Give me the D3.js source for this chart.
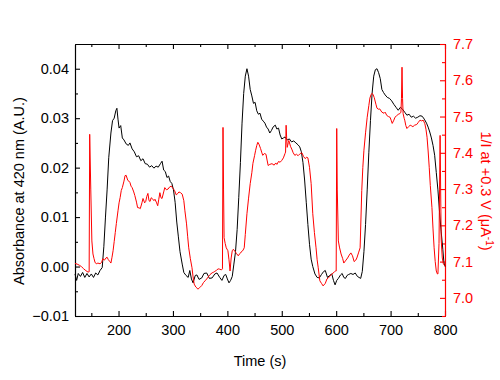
<!DOCTYPE html>
<html>
<head>
<meta charset="utf-8">
<script src="https://cdn.jsdelivr.net/npm/d3@7"></script>
<style>
  body { margin: 0; background: #fff; }
  text { font-family: "Liberation Sans", Arial, sans-serif; }
</style>
</head>
<body>
<div id="chart"></div>
<script>
// absorbance at 420 nm, [time (s), A.U.]
const absorbance = [[120,-0.0015],[123,-0.0028],[126,-0.0014],[130,-0.0020],[134,-0.0012],[138,-0.0022],[142,-0.0014],[146,-0.0021],[150,-0.0015],[154,-0.0022],[158,-0.0013],[162,-0.0017],[166,-0.0008],[170,-0.0002],[173,0.004],[176,0.010],[179,0.0155],[182,0.022],[186,0.027],[189,0.0295],[192,0.030],[195,0.0315],[197,0.032],[199,0.0298],[201,0.028],[204,0.0285],[207,0.026],[210,0.0256],[214,0.0248],[218,0.0245],[221,0.025],[225,0.0238],[229,0.0232],[233,0.0222],[237,0.0224],[241,0.0214],[245,0.0218],[249,0.0208],[253,0.0207],[257,0.0201],[261,0.0204],[265,0.0199],[269,0.0203],[273,0.0201],[277,0.0208],[280,0.0213],[283,0.0195],[286,0.0192],[289,0.018],[292,0.0183],[295,0.0172],[298,0.0168],[301,0.0155],[304,0.013],[307,0.009],[310,0.006],[313,0.003],[317,0.0005],[320,-0.0012],[324,-0.0018],[328,-0.0022],[331,-0.0008],[334,-0.0025],[337,-0.0033],[341,-0.0018],[344,-0.0017],[348,-0.0026],[353,-0.0023],[357,-0.0014],[362,-0.0013],[367,-0.0024],[372,-0.0023],[377,-0.0015],[381,-0.0013],[386,-0.0022],[390,-0.0028],[394,-0.0018],[397,-0.0016],[400,-0.0025],[403,-0.0033],[406,-0.0028],[409,-0.002],[412,0.0005],[415,0.003],[418,0.0075],[421,0.014],[424,0.021],[427,0.029],[430,0.035],[433,0.0385],[436,0.040],[439,0.0385],[442,0.0358],[445,0.0345],[448,0.033],[451,0.0332],[454,0.0315],[457,0.0308],[460,0.031],[463,0.0298],[466,0.0294],[469,0.029],[472,0.0282],[475,0.0278],[478,0.027],[481,0.0275],[484,0.0282],[488,0.0286],[491,0.0278],[494,0.028],[497,0.0266],[500,0.0258],[503,0.026],[506,0.0262],[510,0.0256],[514,0.0258],[518,0.0252],[522,0.0254],[526,0.025],[530,0.0246],[533,0.0242],[536,0.0232],[539,0.021],[542,0.0175],[545,0.013],[548,0.0085],[551,0.0045],[554,0.0015],[557,0.0],[561,-0.0015],[565,-0.0022],[569,-0.0023],[573,-0.0016],[577,-0.001],[580,-0.0008],[584,-0.0022],[588,-0.0018],[592,-0.0015],[595,-0.0028],[598,-0.0037],[601,-0.0028],[604,-0.0024],[608,-0.0017],[611,-0.0014],[614,-0.0022],[617,-0.0024],[620,-0.0018],[623,-0.0016],[627,-0.0014],[631,-0.0016],[635,-0.0013],[639,-0.002],[642,-0.0022],[645,-0.0024],[648,-0.001],[651,0.003],[654,0.0085],[657,0.0155],[660,0.023],[663,0.0295],[666,0.035],[669,0.0385],[672,0.0398],[675,0.040],[678,0.0392],[681,0.038],[684,0.0358],[687,0.0352],[690,0.0347],[694,0.0342],[698,0.034],[702,0.0335],[706,0.0328],[710,0.0322],[714,0.0316],[718,0.0322],[722,0.0318],[726,0.0312],[730,0.0306],[734,0.0308],[738,0.0302],[742,0.0304],[746,0.030],[750,0.0302],[754,0.0305],[758,0.0304],[762,0.0298],[766,0.029],[769,0.0282],[772,0.0272],[775,0.026],[778,0.0245],[781,0.0225],[784,0.019],[787,0.0155],[790,0.011],[793,0.007],[796,0.0035],[798,0.0008],[800,0.0]];

// 1/I at +0.3 V, [time (s), uA^-1]
const inverseCurrent = [[120,7.095],[124,7.093],[128,7.090],[132,7.086],[136,7.080],[140,7.075],[144,7.071],[146,7.072],[147,7.451],[149,7.30],[151,7.157],[153,7.121],[155,7.108],[157,7.097],[160,7.094],[162,7.096],[166,7.094],[169,7.098],[171,7.108],[174,7.104],[177,7.110],[179,7.112],[181,7.106],[184,7.100],[186,7.096],[188,7.112],[190,7.130],[192,7.155],[194,7.180],[196,7.205],[199,7.240],[201,7.262],[203,7.277],[205,7.296],[207,7.304],[210,7.322],[212,7.337],[214,7.338],[217,7.324],[219,7.322],[221,7.318],[223,7.308],[225,7.304],[228,7.292],[230,7.282],[233,7.264],[235,7.249],[238,7.248],[240,7.246],[243,7.262],[245,7.274],[248,7.262],[250,7.266],[252,7.280],[254,7.288],[256,7.268],[258,7.266],[260,7.276],[262,7.274],[265,7.268],[267,7.272],[270,7.262],[272,7.254],[274,7.272],[276,7.290],[278,7.276],[280,7.274],[283,7.292],[285,7.304],[288,7.298],[291,7.300],[294,7.306],[297,7.308],[300,7.302],[303,7.296],[306,7.284],[309,7.288],[311,7.292],[314,7.290],[317,7.286],[320,7.268],[322,7.240],[325,7.204],[327,7.170],[329,7.138],[332,7.108],[335,7.083],[337,7.058],[339,7.038],[342,7.030],[346,7.024],[349,7.028],[353,7.034],[356,7.042],[359,7.047],[362,7.052],[365,7.058],[368,7.064],[372,7.069],[375,7.071],[377,7.073],[380,7.076],[383,7.080],[386,7.079],[389,7.077],[391,7.080],[392,7.470],[393,7.30],[394,7.166],[396,7.150],[398,7.138],[401,7.130],[403,7.105],[405,7.074],[407,7.110],[409,7.130],[411,7.134],[414,7.128],[417,7.122],[420,7.116],[423,7.122],[425,7.126],[427,7.128],[429,7.132],[431,7.138],[433,7.175],[436,7.232],[439,7.275],[442,7.315],[445,7.345],[447,7.371],[450,7.392],[452,7.407],[454,7.420],[456,7.429],[458,7.424],[461,7.412],[463,7.402],[465,7.393],[468,7.398],[471,7.396],[473,7.380],[475,7.365],[478,7.368],[482,7.370],[486,7.366],[489,7.372],[491,7.368],[494,7.376],[497,7.374],[500,7.379],[503,7.386],[506,7.398],[507,7.402],[508,7.476],[509,7.44],[510,7.415],[512,7.428],[513,7.434],[516,7.418],[519,7.408],[521,7.400],[524,7.393],[527,7.396],[530,7.392],[534,7.398],[537,7.400],[540,7.390],[543,7.384],[546,7.388],[548,7.386],[551,7.360],[554,7.315],[557,7.232],[560,7.180],[563,7.138],[565,7.105],[567,7.083],[570,7.047],[573,7.040],[576,7.033],[580,7.040],[583,7.052],[586,7.056],[589,7.060],[592,7.066],[594,7.068],[597,7.072],[599,7.074],[600,7.074],[601,7.467],[602,7.30],[604,7.157],[606,7.140],[609,7.121],[612,7.108],[614,7.096],[617,7.102],[621,7.110],[624,7.118],[627,7.124],[630,7.116],[633,7.100],[636,7.104],[638,7.110],[641,7.124],[644,7.138],[647,7.296],[649,7.360],[651,7.407],[654,7.455],[657,7.498],[660,7.530],[662,7.551],[664,7.560],[666,7.564],[668,7.560],[670,7.552],[673,7.534],[675,7.523],[678,7.520],[680,7.521],[684,7.512],[688,7.509],[690,7.512],[693,7.503],[696,7.500],[699,7.498],[701,7.490],[703,7.481],[706,7.490],[708,7.498],[711,7.502],[714,7.506],[717,7.508],[719,7.512],[720,7.55],[721,7.636],[722,7.55],[723,7.508],[725,7.495],[726,7.490],[728,7.475],[730,7.467],[733,7.472],[736,7.476],[739,7.474],[741,7.472],[744,7.476],[748,7.478],[751,7.484],[754,7.490],[757,7.488],[760,7.490],[763,7.480],[765,7.465],[767,7.443],[769,7.405],[771,7.360],[773,7.310],[776,7.249],[778,7.190],[780,7.138],[782,7.100],[784,7.074],[786,7.066],[787,7.066],[789,7.150],[790,7.300],[791,7.448],[792,7.300],[793,7.160],[795,7.110],[797,7.094],[800,7.088]];

const timeTicks = [200, 300, 400, 500, 600, 700, 800];
const timeMinor = [150, 250, 350, 450, 550, 650, 750];
const absTicks = [-0.01, 0, 0.01, 0.02, 0.03, 0.04];
const absMinor = [-0.005, 0.005, 0.015, 0.025, 0.035];
const invTicks = [7.0, 7.1, 7.2, 7.3, 7.4, 7.5, 7.6, 7.7];
const invMinor = [6.95, 7.05, 7.15, 7.25, 7.35, 7.45, 7.55, 7.65];

const W = 500, H = 380;
const margin = {top: 44, right: 55, bottom: 64, left: 75};
const red = '#ff0000';

const svg = d3.select('#chart').append('svg')
  .attr('width', W)
  .attr('height', H);

const x = d3.scaleLinear().domain([120, 800]).range([margin.left, W - margin.right]);
const yAbs = d3.scaleLinear().domain([-0.01, 0.045]).range([H - margin.bottom, margin.top]);
const yInv = d3.scaleLinear().domain([6.95, 7.7]).range([H - margin.bottom, margin.top]);

// axes, ticks pointing inward
function styleAxis(g, color) {
  g.selectAll('path, line').attr('stroke', color).attr('stroke-width', 1.1);
  g.selectAll('text').attr('fill', color).style('font-size', '14.5px');
}

svg.append('g')
  .attr('transform', `translate(0,${H - margin.bottom})`)
  .call(d3.axisBottom(x).tickValues(timeTicks).tickSize(-5).tickSizeOuter(0).tickPadding(9))
  .call(g => styleAxis(g, '#000'));
svg.append('g')
  .attr('transform', `translate(0,${H - margin.bottom})`)
  .call(d3.axisBottom(x).tickValues(timeMinor).tickSize(-3).tickSizeOuter(0).tickFormat(''))
  .call(g => styleAxis(g, '#000'));

svg.append('g')
  .attr('transform', `translate(0,${margin.top})`)
  .call(d3.axisTop(x).tickValues(timeTicks).tickSize(-5).tickSizeOuter(0).tickFormat(''))
  .call(g => styleAxis(g, '#000'));
svg.append('g')
  .attr('transform', `translate(0,${margin.top})`)
  .call(d3.axisTop(x).tickValues(timeMinor).tickSize(-3).tickSizeOuter(0).tickFormat(''))
  .call(g => styleAxis(g, '#000'));

svg.append('g')
  .attr('transform', `translate(${margin.left},0)`)
  .call(d3.axisLeft(yAbs).tickValues(absTicks).tickSize(-5).tickSizeOuter(0).tickPadding(6).tickFormat(d3.format('.2f')))
  .call(g => styleAxis(g, '#000'));
svg.append('g')
  .attr('transform', `translate(${margin.left},0)`)
  .call(d3.axisLeft(yAbs).tickValues(absMinor).tickSize(-3).tickSizeOuter(0).tickFormat(''))
  .call(g => styleAxis(g, '#000'));

svg.append('g')
  .attr('transform', `translate(${W - margin.right},0)`)
  .call(d3.axisRight(yInv).tickValues(invTicks).tickSize(-5).tickSizeOuter(0).tickPadding(8).tickFormat(d3.format('.1f')))
  .call(g => styleAxis(g, red));
svg.append('g')
  .attr('transform', `translate(${W - margin.right},0)`)
  .call(d3.axisRight(yInv).tickValues(invMinor).tickSize(-3).tickSizeOuter(0).tickFormat(''))
  .call(g => styleAxis(g, red));

// data lines
const absLine = d3.line().x(d => x(d[0])).y(d => yAbs(d[1]));
const invLine = d3.line().x(d => x(d[0])).y(d => yInv(d[1]));

svg.append('path')
  .datum(absorbance)
  .attr('fill', 'none')
  .attr('stroke', '#000')
  .attr('stroke-width', 1)
  .attr('d', absLine);

svg.append('path')
  .datum(inverseCurrent)
  .attr('fill', 'none')
  .attr('stroke', red)
  .attr('stroke-width', 1)
  .attr('d', invLine);

// axis titles
svg.append('text')
  .attr('x', (margin.left + W - margin.right) / 2)
  .attr('y', 366)
  .attr('text-anchor', 'middle')
  .style('font-size', '14.5px')
  .text('Time (s)');

svg.append('text')
  .attr('transform', 'translate(24,191) rotate(-90)')
  .attr('text-anchor', 'middle')
  .style('font-size', '14.5px')
  .text('Absorbance at 420 nm (A.U.)');

const rt = svg.append('text')
  .attr('transform', 'translate(481,191) rotate(90)')
  .attr('text-anchor', 'middle')
  .attr('fill', red)
  .style('font-size', '14.5px');
rt.append('tspan').text('1/I at +0.3 V (\u03bcA');
rt.append('tspan').attr('dy', -5).style('font-size', '10px').text('-1');
rt.append('tspan').attr('dy', 5).text(')');
</script>
</body>
</html>
